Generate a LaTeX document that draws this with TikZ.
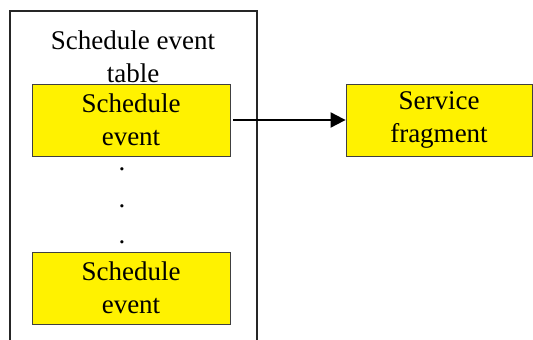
\documentclass[tikz,border=0pt]{standalone}
\usepackage{fontspec}
\setmainfont{Liberation Serif}
\usetikzlibrary{arrows.meta}
\begin{document}
\begin{tikzpicture}[x=1pt,y=-1pt,
  txt/.style={font=\fontsize{27}{33}\selectfont, align=center, inner sep=0pt},
  dotm/.style={font=\fontsize{27}{33}\selectfont, inner sep=0pt},
  evbox/.style={draw=black!75, line width=0.8pt, fill=yellow, minimum width=198pt, minimum height=72pt, inner sep=0pt, txt},
  arr/.style={line width=2pt, -{Triangle[length=15pt,width=15pt]}}
]
\useasboundingbox (0,0) rectangle (533,340);
\begin{scope}
\clip (0,0) rectangle (533,340);
\draw[line width=1.3pt, draw=black!85] (10,11) rectangle (257,360);
\end{scope}
\node[txt] (title) at (133,57) {Schedule event\\table};
\node[evbox] (ev1) at (131,120) {Schedule\\event};
\node[evbox] (ev2) at (131,288) {Schedule\\event};
\node[evbox, minimum width=186pt] (svc) at (439,120) {Service\\fragment};
\node[dotm] (d1) at (122,169) {.};
\node[dotm] (d2) at (122,206) {.};
\node[dotm] (d3) at (122,242) {.};
\draw[arr, shorten <=3pt] (ev1.east) -- (svc.west);
\end{tikzpicture}
\end{document}
